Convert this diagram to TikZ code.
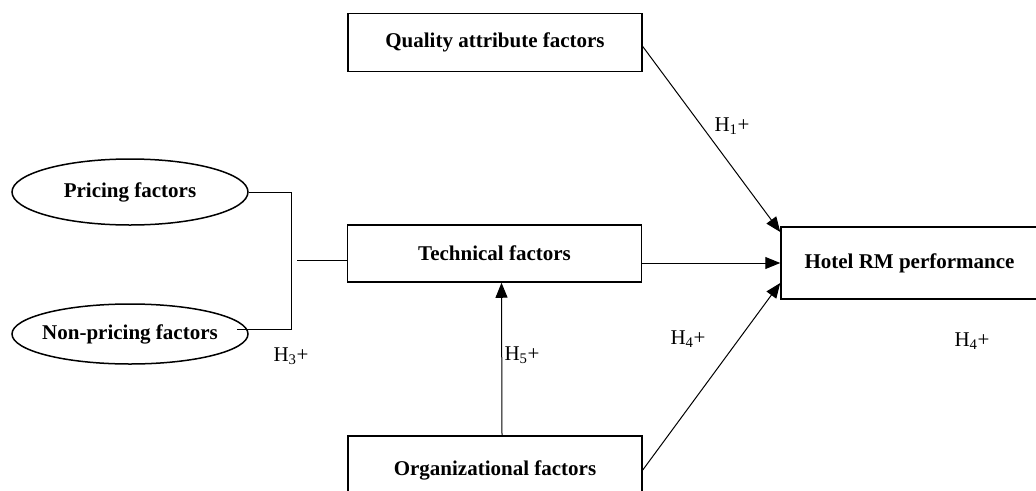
\documentclass[tikz,border=0pt]{standalone}
\usepackage{fontspec}
\setmainfont{Liberation Serif}
\usetikzlibrary{shapes.geometric,arrows.meta}
\newcommand{\diagsize}{\fontsize{21}{25}\selectfont}
\tikzset{%
  factor/.style={%
    rectangle,%
    draw,%
    line width=1.5pt,%
    font=\diagsize\bfseries,%
    minimum width=294pt,%
    minimum height=58pt,%
    inner sep=0pt},
  driver/.style={%
    ellipse,%
    draw,%
    line width=1.5pt,%
    font=\diagsize\bfseries,%
    minimum width=236pt,%
    inner xsep=-40pt,%
    inner ysep=0pt},
  link/.style={%
    line width=1pt,%
    -{Triangle[length=15pt,width=12pt]}},
  hyp/.style={font=\diagsize}
}
\begin{document}
\begin{tikzpicture}[x=1pt,y=-1pt]
  \useasboundingbox (0,0) rectangle (1036,490);
  \clip (0,0) rectangle (1036,490);
  \node [factor] (qual) at (495,42.5) {Quality attribute factors};
  \node [factor,minimum height=57pt] (tech) at (494.5,253.5) {Technical factors};
  \node [factor,minimum height=68pt] (org) at (495,470) {Organizational factors};
  \node [factor,minimum width=257pt,minimum height=72pt] (hotel) at (909.5,263) {Hotel RM performance};
  \node [driver,minimum height=66pt] (pri) at (130,192) {Pricing factors};
  \node [driver,minimum height=60pt] (npr) at (130,334) {Non-pricing factors};
  \coordinate (jbot) at (291,329);
  \coordinate (jmid) at (297,260);
  \draw [line width=1pt] (pri.east) -| (jbot) -- +(-54,0);
  \draw [line width=1pt] (jmid) -- (jmid -| tech.west);
  \draw [link] ([yshift=-4pt]qual.east) -- ([yshift=31pt]hotel.west);
  \draw [link] (tech.east |- hotel.west) -- (hotel.west);
  \draw [link] (org.east) -- ([yshift=-20pt]hotel.west);
  \draw [link] ([xshift=7pt]org.north) -- ([xshift=7pt]tech.south);
  \node [hyp] (h1) at (732,126) {H\textsubscript{1}+};
  \node [hyp] (h3) at (291,356) {H\textsubscript{3}+};
  \node [hyp] (h5) at (522,355) {H\textsubscript{5}+};
  \node [hyp] (h4a) at (688,339) {H\textsubscript{4}+};
  \node [hyp] (h4b) at (972,341) {H\textsubscript{4}+};
\end{tikzpicture}
\end{document}
